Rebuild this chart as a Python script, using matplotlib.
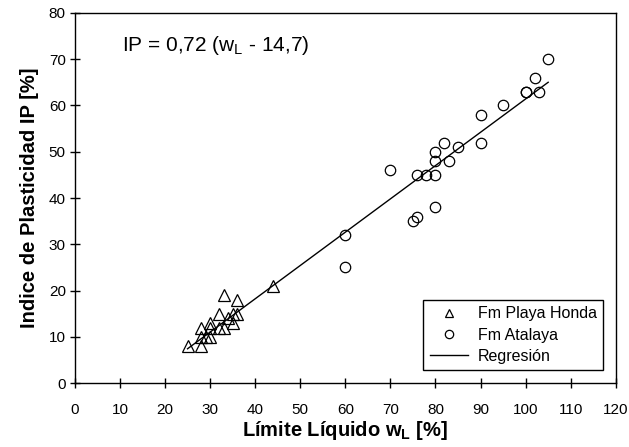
import numpy as np
import matplotlib.pyplot as plt

plt.rcParams['font.family'] = ['Liberation Sans', 'DejaVu Sans']
plt.rcParams['mathtext.fontset'] = 'custom'
plt.rcParams['mathtext.rm'] = 'Liberation Sans'
plt.rcParams['mathtext.it'] = 'Liberation Sans'
plt.rcParams['mathtext.bf'] = 'Liberation Sans:bold'

# Fm Playa Honda (wL, IP)
wl_ph = [25, 28, 28, 28, 29, 30, 30, 30, 32, 33, 33, 32, 34, 35, 35, 36, 36, 44]
ip_ph = [8, 8, 12, 10, 10, 13, 10, 12, 15, 19, 12, 12, 14, 15, 13, 15, 18, 21]

# Fm Atalaya (wL, IP)
wl_at = [105, 102, 100, 100, 103, 95, 90, 90, 82, 85, 80, 80, 83, 76, 78, 80, 70, 80, 75, 76, 60, 60]
ip_at = [70, 66, 63, 63, 63, 60, 58, 52, 52, 51, 50, 48, 48, 45, 45, 45, 46, 38, 35, 36, 32, 25]

# regression IP = 0,72 (wL - 14,7)
slope = 0.72
wl0 = 14.7
wl_range = [25, 105]

fig = plt.figure(figsize=(6.29, 4.47), dpi=100)
ax = fig.add_axes([0.119, 0.143, 0.86, 0.828])

ax.plot(wl_ph, ip_ph, linestyle='none', marker='^', ms=8, mfc='none', mec='black',
        mew=0.9, label='Fm Playa Honda')
ax.plot(wl_at, ip_at, linestyle='none', marker='o', ms=7.5, mfc='none', mec='black',
        mew=0.9, label='Fm Atalaya')
xr = np.array(wl_range, dtype=float)
ax.plot(xr, slope * (xr - wl0), color='black', lw=1.0, label='Regresión')

ax.set_xlim(0, 120)
ax.set_ylim(0, 80)
ax.set_xticks(range(0, 121, 10))
ax.set_yticks(range(0, 81, 10))
ax.tick_params(axis='both', direction='inout', length=7, width=1, labelsize=11)
ax.tick_params(axis='x', pad=11)
ax.tick_params(axis='y', pad=3)
for s in ax.spines.values():
    s.set_linewidth(1)

ax.set_xlabel('Límite Líquido w$_\\mathbf{L}$ [%]', fontsize=14.5, fontweight='bold', labelpad=1)
ax.set_ylabel('Indice de Plasticidad IP [%]', fontsize=14.5, fontweight='bold', labelpad=7)

ax.text(10.5, 73, 'IP = 0,72 (w$_\\mathrm{L}$ - 14,7)', fontsize=15, va='center')

leg = ax.legend(loc='lower right', fontsize=11.5, frameon=True, fancybox=False,
                edgecolor='black', framealpha=1, borderaxespad=0.8, handlelength=2.4,
                handletextpad=0.6, labelspacing=0.4, markerscale=0.8)
leg.get_frame().set_linewidth(1)

fig.savefig('out.png', dpi=100)
